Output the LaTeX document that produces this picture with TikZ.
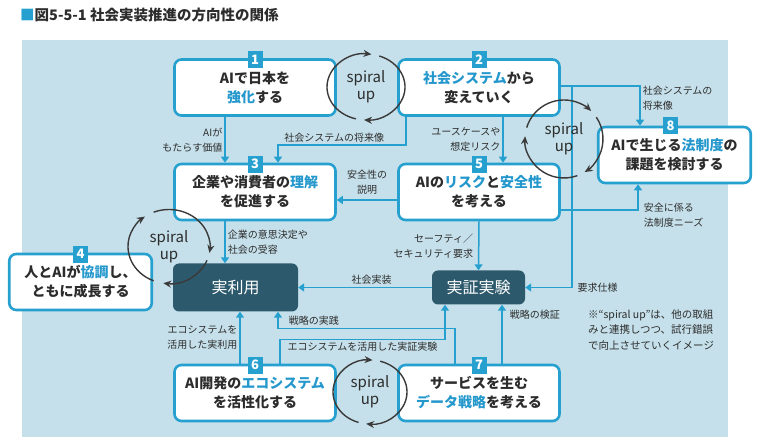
\documentclass[tikz,border=0pt]{standalone}
\usepackage{fontspec}
\setmainfont{Noto Sans CJK JP}
\usepackage{tikz}
\usetikzlibrary{arrows.meta, positioning, calc}
\definecolor{relBlue}{RGB}{38,160,207}
\definecolor{relKey}{RGB}{36,152,204}
\definecolor{relDark}{RGB}{45,89,108}
\definecolor{relPanel}{RGB}{197,224,234}
\definecolor{relText}{RGB}{44,44,44}
\definecolor{relLoop}{RGB}{58,58,58}
\newcommand{\kw}[1]{{\color{relKey}#1}}
\tikzset{
  rel/box/.style={rectangle, rounded corners=7pt, draw=relBlue, fill=white,
    line width=2.6pt, minimum width=161pt, minimum height=56pt, inner sep=2pt,
    font=\fontsize{14}{19}\selectfont\bfseries\color{relText}, align=center},
  rel/dark/.style={rectangle, rounded corners=6pt, fill=relDark, inner sep=2pt,
    font=\fontsize{16}{18}\selectfont\color{white}, align=center},
  rel/num/.style={rectangle, fill=relBlue, minimum width=15pt,
    minimum height=17pt, inner sep=0pt,
    font=\fontsize{13}{13}\selectfont\bfseries\color{white}},
  rel/arr/.style={-{Triangle[length=6pt,width=8pt]}, line width=1.5pt,
    draw=relBlue},
  rel/lbl/.style={font=\fontsize{10}{15}\selectfont\color{relText},
    inner sep=2pt},
  rel/loop/.style={-{Stealth[length=8pt,width=7pt]}, line width=1.4pt,
    draw=relLoop},
  rel/spiral/.style={font=\fontsize{15}{17}\selectfont\color{relText},
    align=center, inner sep=0pt}
}

\begin{document}
\begin{tikzpicture}[x=1pt, y=1pt]
  \useasboundingbox (0,0) rectangle (760,446);
  \fill[relPanel] (22,9) rectangle (728,406);
  \node[anchor=west, inner sep=0pt,
        font=\fontsize{14.5}{15}\selectfont\bfseries\color{relText}]
        (title) at (20,431) {{\color{relBlue}■}図5-5-1 社会実装推進の方向性の関係};

  % the eight approaches
  \node[rel/box] (b1) at (255,358.5) {AIで日本を\\\kw{強化}する};
  \node[rel/box] (b2) at (479,358.5) {\kw{社会システム}から\\変えていく};
  \node[rel/box] (b3) at (255,254) {企業や消費者の\kw{理解}\\を促進する};
  \node[rel/box] (b5) at (479,254) {AIの\kw{リスク}と\kw{安全性}\\を考える};
  \node[rel/box, minimum width=152.5pt] (b8) at (674.5,291)
        {AIで生じる\kw{法制度}の\\課題を検討する};
  \node[rel/box, minimum width=142.5pt] (b4) at (80.5,164)
        {人とAIが\kw{協調}し、\\ともに成長する};
  \node[rel/box] (b6) at (255,53) {AI開発の\kw{エコシステム}\\を活性化する};
  \node[rel/box] (b7) at (479,53) {サービスを生む\\\kw{データ戦略}を考える};

  \node[rel/dark, minimum width=125pt, minimum height=48pt] (real)
        at (235.5,158.5) {実利用};
  \node[rel/dark, minimum width=93pt, minimum height=34pt] (poc)
        at (478.5,158.5) {実証実験};

  % number tags
  \node[rel/num] (n1) at ([yshift=-1.5]b1.north) {1};
  \node[rel/num] (n2) at ([yshift=-1.5]b2.north) {2};
  \node[rel/num] (n3) at ([yshift=-1.5]b3.north) {3};
  \node[rel/num] (n4) at ([yshift=-1.5]b4.north) {4};
  \node[rel/num] (n5) at ([yshift=-1.5]b5.north) {5};
  \node[rel/num] (n6) at ([yshift=-1.5]b6.north) {6};
  \node[rel/num] (n7) at ([yshift=-1.5]b7.north) {7};
  \node[rel/num] (n8) at ([xshift=-4]b8.north) {8};

  % connectors
  \draw[rel/arr] ([xshift=-30]b1.south) -- node[rel/lbl, left, align=right]
        {AIが\\もたらす価値} ([xshift=-30]b3.north);
  \draw[rel/arr] ([xshift=-73]b2.south) -- ++(0,-28)
        -| node[rel/lbl, above, pos=0.28] {社会システムの将来像}
        ([xshift=23]b3.north);
  \draw[rel/arr] ([xshift=24]b2.south) -- node[rel/lbl, left, align=right]
        {ユースケースや\\想定リスク} ([xshift=24]b5.north);
  \draw[rel/arr] ([yshift=1.5]b2.east) -| node[rel/lbl, right, align=left,
        pos=0.65] {社会システムの\\将来像} ([xshift=-34.5]b8.north);
  \coordinate (tap) at ($(b2.east)+(11,1.5)$);
  \draw[rel/arr] (tap) |- node[rel/lbl, right, pos=0.5, xshift=3]
        {要求仕様} (poc.east);
  \draw[rel/arr] ([yshift=-8]b5.west) -- node[rel/lbl, above, align=center,
        yshift=3] {安全性の\\説明} ([yshift=-8]b3.east);
  \draw[rel/arr] ([yshift=-18]b5.east) -| node[rel/lbl, pos=0.5, anchor=west,
        align=left, xshift=3, yshift=-5] {安全に係る\\法制度ニーズ}
        ([xshift=-36.5]b8.south);
  \draw[rel/arr] (b5.south) -- node[rel/lbl, left, align=right, xshift=-3]
        {セーフティ／\\セキュリティ要求} (poc.north);
  \draw[rel/arr] ([xshift=-30]b3.south) -- node[rel/lbl, right, align=left]
        {企業の意思決定や\\社会の受容} ([xshift=-10.5]real.north);
  \draw[rel/arr] (poc.west) -- node[rel/lbl, above, pos=0.45] {社会実装}
        (real.east);
  \draw[rel/arr] ([xshift=-15]b6.north) -- node[rel/lbl, left, align=right]
        {エコシステムを\\活用した実利用} ([xshift=4.5]real.south);
  \draw[rel/arr] ([xshift=25]b6.north) -- ++(0,24)
        -| node[rel/lbl, below, pos=0.25] {エコシステムを活用した実証実験}
        ([xshift=-33.5]poc.south);
  \draw[rel/arr] ([xshift=-24]b7.north) -- ++(0,35)
        -| node[rel/lbl, right, pos=0.75, xshift=8] {戦略の実践}
        ([xshift=42.5]real.south);
  \draw[rel/arr] ([xshift=23]b7.north) -- node[rel/lbl, right, pos=0.83,
        xshift=5] {戦略の検証} ([xshift=23.5]poc.south);

  % spiral up loops
  \node[rel/spiral] (sp1) at (366,359) {spiral\\up};
  \node[rel/spiral] (sp2) at (564,307) {spiral\\up};
  \node[rel/spiral] (sp3) at (169,199.5) {spiral\\up};
  \node[rel/spiral] (sp4) at (370,54) {spiral\\up};
  \draw[rel/loop] ($(sp1)+(255:39 and 33)$)
        arc[start angle=255, end angle=82, x radius=39, y radius=33];
  \draw[rel/loop] ($(sp1)+(70:39 and 33)$)
        arc[start angle=70, end angle=-93, x radius=39, y radius=33];
  \draw[rel/loop] ($(sp2)+(163:39 and 39)$)
        arc[start angle=163, end angle=46, x radius=39, y radius=39];
  \draw[rel/loop] ($(sp2)+(34:39 and 39)$)
        arc[start angle=34, end angle=-58, x radius=39, y radius=39];
  \draw[rel/loop] ($(sp2)+(-70:39 and 39)$)
        arc[start angle=-70, end angle=-184, x radius=39, y radius=39];
  \draw[rel/loop] ($(sp3)+(248:41 and 37)$)
        arc[start angle=248, end angle=126, x radius=41, y radius=37];
  \draw[rel/loop] ($(sp3)+(112:41 and 37)$)
        arc[start angle=112, end angle=-10, x radius=41, y radius=37];
  \draw[rel/loop] ($(sp3)+(-22:41 and 37)$)
        arc[start angle=-22, end angle=-98, x radius=41, y radius=37];
  \draw[rel/loop] ($(sp4)+(252:37 and 32)$)
        arc[start angle=252, end angle=86, x radius=37, y radius=32];
  \draw[rel/loop] ($(sp4)+(74:37 and 32)$)
        arc[start angle=74, end angle=-96, x radius=37, y radius=32];

  \node[rel/lbl, anchor=north west, align=left,
        font=\fontsize{10.5}{15.5}\selectfont\color{relText}] (memo)
        at (586,139) {※“spiral up”は、他の取組\\みと連携しつつ、試行錯誤\\で向上させていくイメージ};
\end{tikzpicture}
\end{document}
